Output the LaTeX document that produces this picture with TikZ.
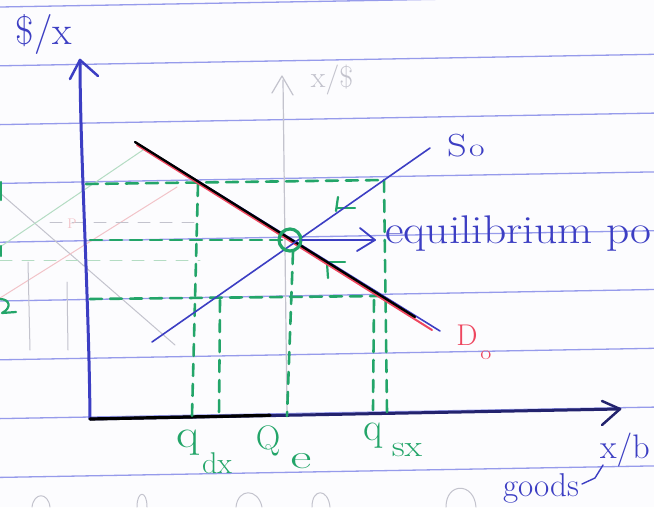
\documentclass[tikz,border=0pt]{standalone}
\usepackage{fontspec}
\usepackage{graphicx}
\definecolor{ink}{RGB}{60,62,195}
\definecolor{inkdark}{RGB}{35,35,110}
\definecolor{grn}{RGB}{35,165,105}
\definecolor{rd}{RGB}{238,70,95}
\definecolor{rulecol}{RGB}{150,155,235}
\definecolor{ghost}{RGB}{195,195,205}
\definecolor{ghostgrn}{RGB}{180,220,195}
\definecolor{ghostred}{RGB}{242,195,200}
\definecolor{paper}{RGB}{252,252,254}
\tikzset{
  ruled/.style={rulecol, line width=1.3pt},
  axisline/.style={ink, line width=3pt},
  gdash/.style={grn, line width=2.6pt, dash pattern=on 12pt off 8pt},
  curve/.style={ink, line width=1.6pt},
  ghostline/.style={ghost, line width=1pt},
  hand/.style={inner sep=0pt, anchor=center},
}
\newcommand{\fsz}[1]{\fontsize{#1}{#1}\selectfont}
\begin{document}
\begin{tikzpicture}[x=1pt,y=-1pt,line cap=round,line join=round]
\useasboundingbox (0,0) rectangle (654,507);
\fill[paper] (0,0) rectangle (654,507);
% ruled lines of the paper
\foreach \k in {0,...,8}{
  \draw[ruled] (0,{7+58.8*\k}) -- (654,{7+58.8*\k-11.5});
}
% ghost marks showing through from the other side
\draw[ghostline] (0,193) -- (175,345);
\draw[ghostgrn, line width=1pt] (0,247) -- (143,150);
\draw[ghostred, line width=1pt] (0,298) -- (177,187);
\draw[ghost, line width=1pt, dash pattern=on 12pt off 10pt] (50,222) -- (200,222);
\draw[ghostgrn, line width=1pt, dash pattern=on 12pt off 10pt] (0,260) -- (200,260);
\draw[ghostline] (28,262) -- (30,350);
\draw[ghostline] (67,282) -- (68,350);
\node[hand, ghostred] (ghostP) at (72,224) {\fsz{14}P};
\draw[ghost, line width=1.2pt] (287,415) -- (283,80);
\draw[ghost, line width=1.2pt] (272,93) -- (282,76) -- (293,95);
\node[hand, ghost] (ghostlab) at (332,80) {\fsz{30}x/\$};
\draw[ghostline] (32,507) .. controls (34,492) and (48,492) .. (50,507);
\draw[ghostline] (137,507) .. controls (137,490) and (147,490) .. (147,507);
\draw[ghostline] (236,507) .. controls (238,488) and (258,488) .. (262,507);
\draw[ghostline] (312,507) .. controls (312,488) and (328,488) .. (330,507);
\draw[ghostline] (446,507) .. controls (446,482) and (474,482) .. (476,507);
% green cut marks at the left edge
\draw[grn, line width=2.5pt] (1,182) -- (1,200);
\draw[grn, line width=2.5pt] (1,246) -- (1,256);
\draw[grn, line width=2.2pt] (0,299) .. controls (10,299) and (12,308) .. (2,313) -- (16,312);
% axes
\coordinate (O) at (90,419);
\coordinate (ytip) at (80,60);
\coordinate (xtip) at (620,409);
\draw[axisline] (O) .. controls (89,300) and (80,150) .. (ytip);
\draw[ink, line width=2.5pt] (70,79) -- (ytip) -- (98,76);
\draw[inkdark, line width=3pt] (O) -- (xtip);
\draw[black, line width=3.2pt] (O) -- (270,415.3);
\draw[inkdark, line width=2.5pt] (602,401) -- (xtip) -- (602,425);
\node[hand, ink] (ylab) at (44,34) {\fsz{40}\$/x};
\node[hand, ink, anchor=west] (xlab) at (600,450) {\fsz{34}x/b};
\node[hand, ink] (goods) at (541,488) {\fsz{33}goods};
\draw[ink, line width=1.4pt] (582,484) -- (595,478) -- (603,465);
% green guide lines
\coordinate (Eq) at (290,240);
\draw[gdash] (86,184) -- (385,180);
\draw[gdash] (90,240) -- (Eq);
\draw[gdash] (90,299) -- (380,296);
\draw[gdash] (198,184) -- (192,416);
\draw[gdash] (220,300) -- (219,416);
\draw[gdash] (293,252) -- (287,416);
\draw[gdash] (384,180) -- (387,412);
\draw[gdash] (374,300) -- (373,410);
% small green marks
\draw[grn, line width=2.2pt] (338,197) -- (336,211);
\draw[grn, line width=2.2pt] (337,208) -- (355,208);
\draw[grn, line width=2.2pt] (327,263) -- (328,278);
\draw[grn, line width=2.2pt] (328,262) -- (345,262);
% supply and demand
\coordinate (D1) at (135,142);
\coordinate (D2) at (440,331);
\coordinate (S1) at (152,342);
\coordinate (S2) at (430,148);
\draw[curve] (D1) -- (D2);
\draw[rd, line width=2pt] (137,145) -- (432,330);
\draw[black, line width=2.3pt] (D1) -- (415,317);
\draw[curve] (S1) -- (S2);
% equilibrium circle and arrow
\draw[grn, line width=3.2pt] (Eq) circle (11);
\coordinate (arrowend) at (375,240);
\draw[ink, line width=1.8pt] (302,240) -- (arrowend);
\draw[ink, line width=1.8pt] (360,228) -- (arrowend) -- (357,251);
\node[hand, ink, anchor=base west] (eqlab) at (385,243) {\fsz{40}\scalebox{1.14}[1]{equilibrium po}};
% curve labels
\node[hand, ink] (slab) at (457,146) {\fsz{32}\scalebox{1.2}[1]{S}};
\node[hand, ink] (slabsub) at (477,151) {\fsz{26}\scalebox{1.3}[1]{o}};
\node[hand, rd] (dlab) at (467,335) {\fsz{30}D};
\node[hand, rd] (dlabsub) at (486,355) {\fsz{20}\scalebox{1.2}[1]{o}};
% quantity labels
\node[hand, grn] (qd) at (188,443) {\fsz{40}\scalebox{1.2}[1]{q}};
\node[hand, grn] (qdsub) at (217,463) {\fsz{30}dx};
\node[hand, grn] (qe) at (268,441) {\fsz{34}Q};
\node[hand, grn] (qesub) at (301,461) {\fsz{34}\scalebox{1.5}[1]{e}};
\node[hand, grn] (qs) at (373,436) {\fsz{40}q};
\node[hand, grn] (qssub) at (407,450) {\fsz{30}\scalebox{1.2}[1]{sx}};
\end{tikzpicture}
\end{document}
